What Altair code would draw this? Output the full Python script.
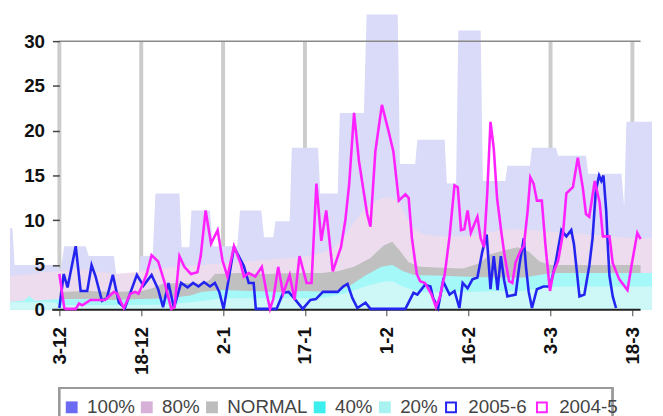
import json
import altair as alt
import pandas as pd

# ---------------- data ----------------
tick_days = [0, 15, 30, 45, 60, 75, 90, 105]
tick_labels = ["3-12", "18-12", "2-1", "17-1", "1-2", "16-2", "3-3", "18-3"]
y_ticks = [0, 5, 10, 15, 20, 25, 30]

band_names = ["100%", "80%", "NORMAL", "40%", "20%"]
band_colors = ["#dadaf9", "#ecdcee", "#c0c0c0", "#a4f8f8", "#cef8f8"]      # area fills
swatch_colors = ["#6a6af2", "#d6b0d6", "#bdbdbd", "#3ceeee", "#a8f2f2"]    # legend swatches

p100_days = [-9.05, -8.6, -8.2, -0.3, 0.2, 0.9, 4.8, 5.4, 10.0, 10.4, 14.5, 14.9, 17.1, 17.6,
             22.0, 22.4, 23.8, 24.2, 27.6, 28.1, 32.6, 33.1, 37.0, 37.5, 39.2, 39.6, 42.2, 42.6,
             47.4, 47.8, 51.0, 51.4, 55.8, 56.3, 62.0, 62.4, 65.2, 65.6, 70.6, 71.0, 72.7, 73.1,
             77.2, 77.6, 81.7, 82.1, 86.2, 86.6, 91.0, 91.4, 96.5, 96.9, 103.0, 103.5, 103.9, 108.6]
p100_vals = [9.1, 9.1, 5.0, 5.0, 4.3, 7.1, 7.1, 6.0, 6.0, 4.0, 4.0, 6.0, 6.0, 13.0,
             13.0, 7.0, 7.0, 11.1, 11.1, 7.1, 7.1, 11.1, 11.1, 8.1, 8.1, 9.9, 9.9, 18.1,
             18.1, 13.0, 13.0, 22.0, 22.0, 33.0, 33.0, 16.3, 16.3, 19.0, 19.0, 14.1, 14.1, 31.2,
             31.2, 14.4, 14.4, 16.1, 16.1, 18.1, 18.1, 17.2, 17.2, 15.2, 15.2, 11.5, 21.0, 21.0]

p80_days = [-9.05, -6, -3, 0, 3, 6, 10, 14, 18, 22, 26, 30, 34, 38, 42, 46, 48, 50, 52, 54,
            56, 58, 60, 62, 63.5, 65, 67, 70, 73, 76, 79, 82, 85, 88, 91, 94, 97, 100, 103, 106, 108.6]
p80_vals = [3.8, 3.9, 4.2, 4.3, 4.6, 4.4, 4.0, 4.2, 4.6, 4.8, 5.0, 5.2, 5.4, 5.6, 5.8, 6.0, 6.4, 6.8, 8.0, 9.8,
            11.3, 12.2, 12.6, 12.2, 10.5, 9.0, 8.4, 8.2, 8.2, 8.3, 8.7, 9.0, 9.0, 8.8, 8.7, 8.6, 8.4, 8.3, 8.1, 8.0, 8.0]

normal_days = [0, 5, 10, 15, 17, 19, 23, 26, 27.5, 28.5, 33, 38, 43, 48, 51, 54, 57, 59.5, 61,
               62.5, 64, 66, 70, 74, 77, 79, 82, 84, 86, 88, 90, 100, 106.5]
normal_vals = [2.0, 2.1, 2.0, 2.1, 2.4, 2.9, 3.0, 2.9, 3.3, 4.0, 4.1, 4.0, 4.1, 4.1, 4.3, 4.8, 5.8, 7.2, 7.6,
               6.5, 5.3, 4.8, 4.7, 4.6, 5.2, 6.2, 6.7, 7.0, 6.5, 5.4, 5.0, 5.0, 5.0]

p40_days = [-9.05, -6.5, -5.5, -4.5, 0, 5, 10, 15, 20, 24, 26, 30, 35, 40, 45, 50, 53, 56, 59, 61,
            63, 65, 70, 75, 80, 85, 88, 90, 100, 108.6]
p40_vals = [0.9, 1.0, 1.5, 1.0, 1.2, 1.2, 1.1, 1.2, 1.3, 1.6, 2.0, 2.2, 2.1, 2.0, 2.1, 2.0, 2.6, 3.8, 4.8, 5.0,
            4.3, 3.9, 3.8, 3.7, 3.6, 3.6, 3.9, 4.1, 4.1, 4.1]

p20_days = [-9.05, -1, 0, 10, 20, 25, 30, 40, 48, 52, 56, 59, 61, 63, 66, 75, 80, 85, 88, 92, 100, 108.6]
p20_vals = [0.85, 0.85, 0.5, 0.5, 0.6, 0.9, 1.3, 1.3, 1.3, 1.8, 2.6, 3.1, 3.2, 2.6, 2.0, 2.0, 2.1, 2.1, 2.4, 2.6, 2.6, 2.6]

s0506_days = [0.0, 0.8, 1.5, 3.0, 3.9, 5.1, 5.9, 6.6, 7.8, 8.7, 9.8, 10.9, 12.0, 14.2, 15.4, 16.9, 18.1,
              19.0, 20.0, 21.0, 22.3, 23.5, 24.5, 25.5, 26.5, 27.6, 28.5, 29.3, 30.1, 32.0, 33.8, 34.7,
              35.6, 36.0, 39.8, 41.0, 42.0, 43.0, 44.6, 46.0, 47.0, 48.3, 50.0, 51.0, 52.0, 52.8, 53.7,
              54.6, 56.1, 57.0, 63.4, 64.9, 65.6, 67.0, 68.0, 68.5, 69.4, 70.3, 71.5, 72.4, 73.3, 73.9,
              74.8, 75.7, 76.6, 77.5, 78.3, 79.0, 79.6, 80.3, 80.9, 81.5, 82.1, 83.6, 84.3, 85.1, 85.5,
              86.0, 86.6, 87.5, 88.7, 89.9, 90.5, 91.0, 92.0, 92.9, 93.8, 94.3, 95.3, 96.2, 97.1, 97.7,
              98.3, 98.9, 99.3, 99.7, 100.2, 100.5, 100.8, 101.4, 102.0]
s0506_vals = [0.2, 4.0, 2.5, 7.1, 2.1, 2.1, 5.0, 3.8, 1.0, 1.3, 3.9, 0.8, 0.2, 3.9, 2.7, 3.9, 2.3,
              0.3, 3.0, 0.2, 3.0, 2.5, 3.0, 2.6, 3.1, 2.6, 3.0, 2.0, 0.1, 7.0, 4.9, 3.0,
              3.0, 0.1, 0.1, 1.9, 2.0, 1.3, 0.1, 1.1, 1.2, 2.0, 2.0, 2.0, 2.6, 2.9, 1.3,
              0.2, 0.8, 0.1, 0.1, 1.9, 1.7, 2.8, 2.6, 1.3, 0.2, 3.2, 1.7, 2.1, 0.2, 3.0,
              2.4, 3.4, 3.6, 6.5, 8.4, 2.3, 6.0, 2.2, 6.0, 3.3, 1.5, 1.7, 5.0, 8.0, 4.8,
              2.0, 0.2, 2.3, 2.6, 2.6, 4.1, 5.5, 8.9, 8.2, 8.9, 7.3, 1.5, 1.7, 4.9, 8.0,
              13.3, 15.0, 14.4, 15.0, 11.1, 7.1, 3.8, 1.5, 0.2]

s0405_days = [0.0, 0.9, 1.2, 3.0, 3.6, 4.2, 5.7, 8.4, 10.0, 10.6, 11.8, 13.0, 13.9, 14.5, 15.1, 16.0,
              16.9, 18.1, 19.3, 20.5, 21.1, 22.0, 22.9, 24.1, 25.3, 25.9, 26.8, 27.8, 29.0, 29.9, 30.8,
              32.0, 33.2, 33.8, 34.7, 35.9, 37.1, 38.0, 38.6, 39.2, 40.1, 41.0, 42.2, 43.1, 44.0, 45.3,
              46.2, 47.1, 48.0, 48.9, 50.1, 51.6, 52.4, 53.1, 54.0, 54.9, 56.4, 57.0, 57.9, 59.1, 60.3,
              61.2, 62.2, 63.4, 64.0, 64.6, 65.5, 66.1, 67.0, 68.2, 69.0, 69.7, 70.6, 71.5, 72.4, 73.0,
              73.6, 74.2, 74.8, 75.4, 76.0, 76.6, 77.2, 77.8, 78.4, 79.0, 79.6, 80.2, 81.0, 81.6, 82.4,
              83.0, 83.6, 84.5, 85.1, 85.8, 86.3, 86.9, 87.5, 88.4, 89.1, 89.9, 90.5, 91.4, 92.3, 92.9,
              94.1, 95.0, 95.9, 96.5, 97.1, 98.1, 99.0, 99.6, 100.8, 101.4, 102.6, 104.1, 105.0, 105.9, 106.5]
s0405_vals = [4.0, 0.2, 0.1, 0.1, 0.7, 0.5, 1.1, 1.1, 2.0, 1.8, 0.2, 1.8, 2.0, 1.8, 2.6, 4.0,
              6.1, 5.4, 3.0, 0.1, 0.3, 6.0, 4.8, 4.0, 4.2, 6.0, 11.1, 7.4, 8.9, 5.5, 3.7,
              7.1, 5.2, 3.7, 4.1, 3.7, 4.8, 1.8, 0.1, 1.2, 4.8, 1.8, 3.9, 1.1, 6.0, 3.0,
              3.0, 14.1, 7.7, 11.1, 4.3, 7.0, 10.0, 14.0, 22.0, 16.6, 10.7, 9.3, 17.7, 22.9, 20.0,
              17.7, 12.2, 12.9, 12.5, 8.0, 4.0, 3.2, 3.0, 1.7, 0.3, 1.4, 3.9, 8.2, 13.9, 13.7,
              8.9, 9.0, 11.1, 8.6, 9.5, 10.4, 8.0, 7.0, 13.0, 21.0, 18.0, 12.5, 8.6, 6.0, 3.2,
              3.0, 5.3, 6.6, 7.1, 11.0, 14.8, 14.1, 12.2, 12.2, 7.0, 2.1, 4.1, 5.5, 8.6, 13.0,
              13.7, 17.0, 13.7, 10.7, 10.4, 14.4, 12.0, 8.2, 8.2, 5.2, 3.4, 2.2, 5.5, 8.6, 7.9]

series_names = ["2005-6", "2004-5"]
series_colors = ["#2424f0", "#ff22ff"]

frame_days = [0, 106.5]      # extent of the top line (30) and of the axis line
axis_line_start = -1.3

# ---------------- scales / axes ----------------
X_MIN, X_MAX, Y_MAX = -9.05, 108.6, 33
FONT = "Liberation Sans"

x_scale = alt.Scale(domain=[X_MIN, X_MAX], nice=False, zero=False)
y_scale = alt.Scale(domain=[0, Y_MAX], nice=False, zero=True)

label_expr = "[" + ",".join("'%s'" % l for l in tick_labels) + "][indexof(" + json.dumps(tick_days) + ", datum.value)]"

xaxis = alt.Axis(values=tick_days, labelExpr=label_expr, title=None, grid=False, domain=False,
                 ticks=True, tickSize=6, tickColor="#444", tickWidth=1,
                 labelAngle=270, labelAlign="right", labelBaseline="middle", labelPadding=11,
                 labelFont=FONT, labelFontSize=19, labelFontWeight="bold", labelColor="#111",
                 labelFlush=False, labelOverlap=False, zindex=0)
yaxis = alt.Axis(values=y_ticks, title=None, grid=False, domain=False, ticks=True, tickSize=7,
                 tickColor="#444", tickWidth=1.5, labelPadding=8, labelFont=FONT, labelFontSize=19,
                 labelFontWeight="bold", labelColor="#111", offset=-50, zindex=2, labelFlush=False)

swatch_scale = alt.Scale(domain=band_names, range=swatch_colors)
stroke_scale = alt.Scale(domain=series_names, range=series_colors)

fill_legend = alt.Legend(orient="none", legendX=53, legendY=388, direction="horizontal", title=None,
                         symbolType="square", symbolSize=144, symbolStrokeWidth=0, symbolOpacity=1,
                         labelFont=FONT, labelFontSize=19, labelColor="#444", labelOffset=6,
                         columnPadding=2, padding=0)
stroke_legend = alt.Legend(orient="none", legendX=437, legendY=388, direction="horizontal", title=None,
                           symbolType="square", symbolSize=100, symbolStrokeWidth=2,
                           symbolFillColor="#ffffff", labelFont=FONT, labelFontSize=19,
                           labelColor="#444", labelOffset=8, columnPadding=5, padding=0)


def X(field="day:Q"):
    return alt.X(field, scale=x_scale, axis=xaxis)


def Y(field="v:Q"):
    return alt.Y(field, scale=y_scale, axis=yaxis)


layers = []

# vertical grid lines (0 .. 30) at the tick days
grid_df = pd.DataFrame({"day": tick_days})
layers.append(alt.Chart(grid_df).mark_rule(color="#cccccc", strokeWidth=4).encode(
    x=X(), y=alt.Y(datum=0, scale=y_scale, axis=yaxis), y2=alt.Y2(datum=30)))

# bands, back to front
for name, color, d, v in [("100%", band_colors[0], p100_days, p100_vals),
                          ("80%", band_colors[1], p80_days, p80_vals),
                          ("NORMAL", band_colors[2], normal_days, normal_vals),
                          ("40%", band_colors[3], p40_days, p40_vals),
                          ("20%", band_colors[4], p20_days, p20_vals)]:
    df = pd.DataFrame({"day": d, "v": v, "band": name})
    layers.append(alt.Chart(df).mark_area(interpolate="linear", color=color).encode(
        x=X(), y=Y()))

# legend carrier for the bands (draws nothing visible)
key_df = pd.DataFrame({"band": band_names, "day": [0.0] * len(band_names), "v": [0.0] * len(band_names)})
layers.append(alt.Chart(key_df).mark_square(filled=True).encode(
    x=X(), y=Y(), size=alt.value(0),
    fill=alt.Fill("band:N", scale=swatch_scale, legend=fill_legend)))

# top line at 30 and the axis line at 0
top_df = pd.DataFrame({"d0": [frame_days[0]], "d1": [frame_days[1]]})
layers.append(alt.Chart(top_df).mark_rule(color="#8a8a8a", strokeWidth=1.5).encode(
    x=X("d0:Q"), x2="d1", y=alt.Y(datum=30, scale=y_scale, axis=yaxis)))
bot_df = pd.DataFrame({"d0": [axis_line_start], "d1": [frame_days[1]]})
layers.append(alt.Chart(bot_df).mark_rule(color="#222222", strokeWidth=2).encode(
    x=X("d0:Q"), x2="d1", y=alt.Y(datum=0, scale=y_scale, axis=yaxis)))

# the two seasons
for name, d, v in [("2005-6", s0506_days, s0506_vals), ("2004-5", s0405_days, s0405_vals)]:
    df = pd.DataFrame({"day": d, "v": v, "series": name})
    layers.append(alt.Chart(df).mark_line(strokeWidth=2.6, interpolate="linear").encode(
        x=X(), y=Y(), stroke=alt.Stroke("series:N", scale=stroke_scale, legend=stroke_legend)))

# legend frame
layers.append(alt.Chart(grid_df).mark_rect(fill=None, stroke="#9a9a9a", strokeWidth=1.5).encode(
    x=alt.value(50), x2=alt.value(610), y=alt.value(378), y2=alt.value(430)))

chart = alt.layer(*layers).properties(
    width=650, height=299,
    padding={"left": 2, "top": 4, "right": 3, "bottom": 105},
    autosize=alt.AutoSizeParams(type="none"),
    background="white",
).configure_view(stroke=None)

chart.save("out.html", embed_options={"renderer": "svg", "actions": False})
